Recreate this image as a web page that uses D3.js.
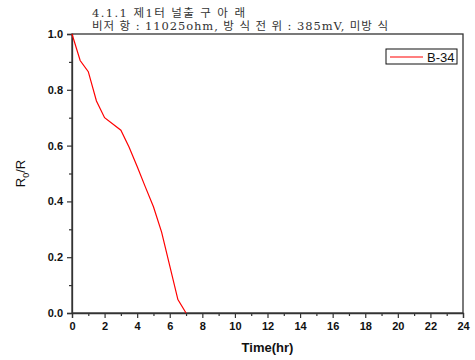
<!DOCTYPE html>
<html>
<head>
<meta charset="utf-8">
<script src="https://cdn.jsdelivr.net/npm/d3@7"></script>
<style>
  body { margin: 0; background: #fff; }
  svg text { font-family: "Liberation Sans", Arial, sans-serif; }
  svg text.title { font-family: "DejaVu Serif", "Noto Sans CJK KR", serif; }
</style>
</head>
<body>
<div id="chart"></div>
<script>
// data
const hours = [0, 0.5, 1, 1.5, 2, 3, 3.5, 4, 4.5, 5, 5.5, 6.5, 7];
const ratio = [1.0, 0.905, 0.865, 0.76, 0.70, 0.655, 0.595, 0.525, 0.452, 0.381, 0.29, 0.048, 0.0];
const seriesName = 'B-34';
const xTicks = d3.range(0, 25, 2);
const yTicks = [0, 0.2, 0.4, 0.6, 0.8, 1.0];
const titleLines = ['4.1.1 제1터 널출 구 아  래', '비저 항 : 11025ohm, 방 식 전 위 : 385mV, 미방 식'];
const titleWidths = [153, 296];

const W = 475, H = 360;
const margin = {top: 34, right: 12, bottom: 47, left: 72};
const width = W - margin.left - margin.right,
  height = H - margin.top - margin.bottom;

const svg = d3.select('#chart')
  .append('svg')
  .attr('width', W)
  .attr('height', H);

const g = svg.append('g')
  .attr('transform', 'translate(' + margin.left + ',' + margin.top + ')');

const x = d3.scaleLinear().domain([0, 24]).range([0, width]);
const y = d3.scaleLinear().domain([0, 1]).range([height, 0]);

//frame
g.append('rect')
  .attr('width', width)
  .attr('height', height)
  .attr('fill', 'none')
  .attr('stroke', '#333')
  .attr('stroke-width', 1.3);

//minor ticks
g.append('g')
  .attr('transform', 'translate(0,' + height + ')')
  .call(d3.axisBottom(x).tickValues(d3.range(1, 24, 2)).tickSize(3).tickFormat(''))
  .call(a => a.select('.domain').remove());
g.append('g')
  .call(d3.axisLeft(y).tickValues([0.1, 0.3, 0.5, 0.7, 0.9]).tickSize(3).tickFormat(''))
  .call(a => a.select('.domain').remove());

//major axes
const xAxis = g.append('g')
  .attr('transform', 'translate(0,' + height + ')')
  .call(d3.axisBottom(x).tickValues(xTicks).tickSize(5).tickPadding(4).tickFormat(d3.format('d')));
const yAxis = g.append('g')
  .call(d3.axisLeft(y).tickValues(yTicks).tickSize(5).tickPadding(4).tickFormat(d3.format('.1f')));

[xAxis, yAxis].forEach(function (a) {
  a.selectAll('.domain').attr('stroke', '#333').attr('stroke-width', 1.3);
  a.selectAll('text')
    .attr('font-size', 11)
    .attr('font-weight', 'bold')
    .attr('fill', '#111');
});
g.selectAll('.tick line').attr('stroke', '#333').attr('stroke-width', 1.2);

//series
const line = d3.line()
  .x(function (d, i) { return x(hours[i]); })
  .y(function (d) { return y(d); });

g.append('path')
  .datum(ratio)
  .attr('d', line)
  .attr('fill', 'none')
  .attr('stroke', '#ff0000')
  .attr('stroke-width', 1.2);

//legend
const legend = g.append('g')
  .attr('transform', 'translate(' + (x(24) - 77) + ',15)');
legend.append('rect')
  .attr('width', 71)
  .attr('height', 15)
  .attr('fill', '#fff')
  .attr('stroke', '#111')
  .attr('stroke-width', 1);
legend.append('line')
  .attr('x1', 4).attr('x2', 37)
  .attr('y1', 8).attr('y2', 8)
  .attr('stroke', '#ff0000')
  .attr('stroke-width', 1.2);
legend.append('text')
  .attr('x', 41)
  .attr('y', 12.5)
  .attr('font-size', 13)
  .attr('fill', '#111')
  .text(seriesName);

//axis titles
svg.append('text')
  .attr('x', margin.left + width / 2)
  .attr('y', 352)
  .attr('text-anchor', 'middle')
  .attr('font-size', 13)
  .attr('font-weight', 'bold')
  .attr('fill', '#111')
  .text('Time(hr)');

const yLabel = svg.append('text')
  .attr('transform', 'translate(25,' + (margin.top + height / 2) + ') rotate(-90)')
  .attr('text-anchor', 'middle')
  .attr('font-size', 13)
  .attr('fill', '#111');
yLabel.append('tspan').text('R');
yLabel.append('tspan').attr('font-size', 9).attr('dy', 4).text('0');
yLabel.append('tspan').attr('dy', -4).text('/R');

//title
svg.selectAll('.title')
  .data(titleLines)
  .enter().append('text')
  .attr('class', 'title')
  .attr('x', 92)
  .attr('y', function (d, i) { return 17 + i * 12.5; })
  .attr('font-size', 11.5)
  .attr('textLength', function (d, i) { return titleWidths[i]; })
  .attr('lengthAdjust', 'spacing')
  .attr('fill', '#333')
  .text(function (d) { return d; });
</script>
</body>
</html>
